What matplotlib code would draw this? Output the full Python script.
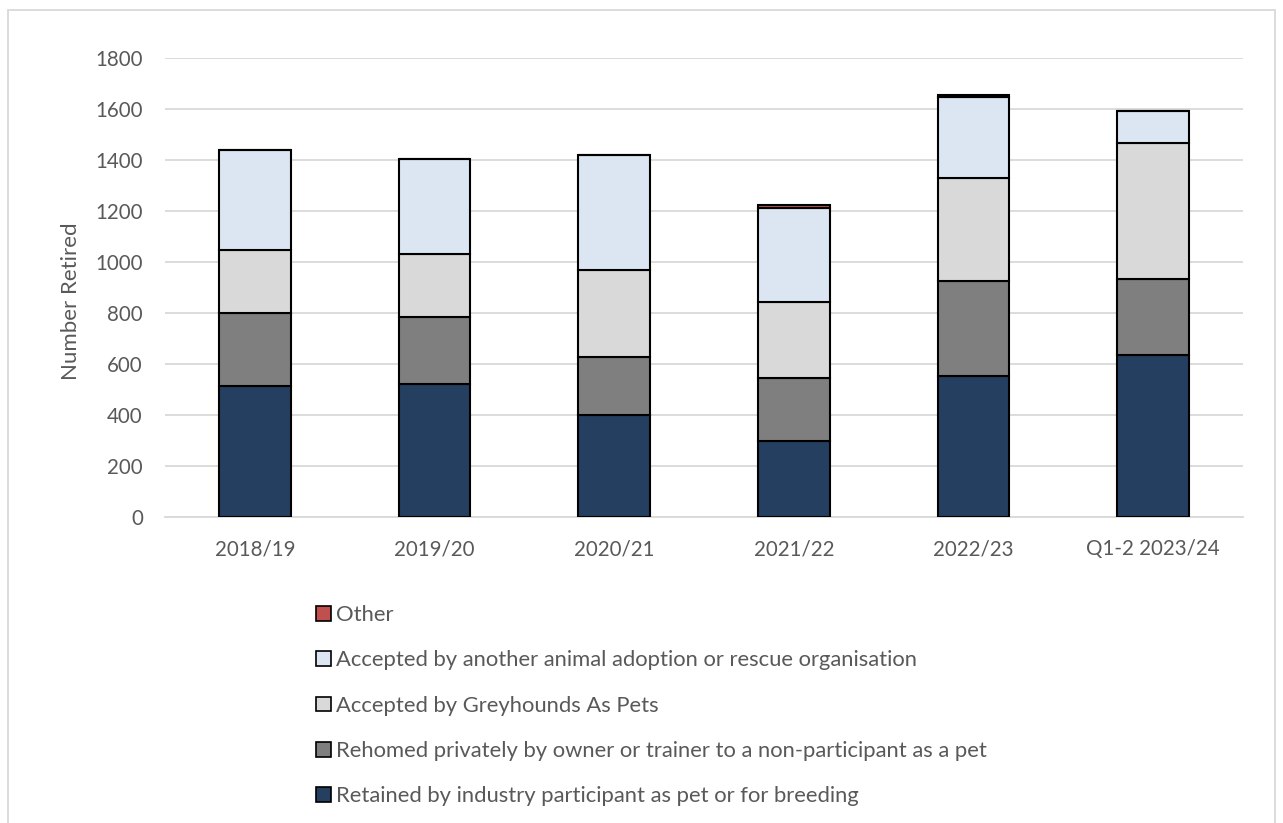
import matplotlib.pyplot as plt
import matplotlib.patches as mpatches
import numpy as np

plt.rcParams['font.family'] = ['Lato', 'DejaVu Sans']

categories = ['2018/19', '2019/20', '2020/21', '2021/22', '2022/23', 'Q1-2 2023/24']
retained = [515, 520, 400, 298, 553, 634]
rehomed = [285, 264, 229, 246, 372, 298]
gap = [248, 246, 340, 300, 403, 533]
rescue = [392, 373, 451, 366, 320, 128]
other = [0, 0, 0, 15, 7, 0]

series = [
    ('Retained by industry participant as pet or for breeding', retained, '#243F60'),
    ('Rehomed privately by owner or trainer to a non-participant as a pet', rehomed, '#7F7F7F'),
    ('Accepted by Greyhounds As Pets', gap, '#D9D9D9'),
    ('Accepted by another animal adoption or rescue organisation', rescue, '#DCE6F2'),
    ('Other', other, '#C0504D'),
]

text_col = '#595959'

fig = plt.figure(figsize=(12.83, 8.23), dpi=100)
ax = fig.add_axes([0.1286, 0.3718, 0.8402, 0.5577])

x = np.arange(len(categories))
bottom = np.zeros(len(categories))
handles = []
for name, vals, col in series:
    vals = np.array(vals, dtype=float)
    ax.bar(x, vals, 0.4, bottom=bottom, color=col, edgecolor='black',
           linewidth=1.5, zorder=3)
    bottom += vals
    handles.append(mpatches.Patch(facecolor=col, edgecolor='black',
                                  linewidth=1.2, label=name))

ax.set_xlim(-0.5, len(categories) - 0.5)
ax.set_ylim(0, 1800)
ax.set_yticks(range(0, 1801, 200))
ax.set_xticks(x)
ax.set_xticklabels(categories)
ax.yaxis.grid(True, color='#D9D9D9', linewidth=1.3, zorder=0)
ax.set_axisbelow(True)
for s in ['top', 'right', 'left']:
    ax.spines[s].set_visible(False)
ax.spines['bottom'].set_color('#D9D9D9')
ax.spines['bottom'].set_linewidth(1.3)
ax.tick_params(length=0, labelsize=14.8, colors=text_col, pad=16)
ax.set_ylabel('Number Retired', fontsize=16, color=text_col)
ax.yaxis.set_label_coords(-0.078, 0.47)

fig.legend(handles=handles[::-1], loc='upper left',
           bbox_to_anchor=(0.238, 0.278), frameon=False, fontsize=15.8,
           labelcolor=text_col, handlelength=0.65, handleheight=0.65,
           handletextpad=0.25, labelspacing=1.15, borderpad=0)

# chart area border
fig.patches.append(mpatches.Rectangle((8 / 1283, -0.05), 1267 / 1283, 1.05 - 10 / 823,
                                      transform=fig.transFigure, fill=False,
                                      edgecolor='#D9D9D9', linewidth=1.3))

fig.savefig('out.png', dpi=100)
